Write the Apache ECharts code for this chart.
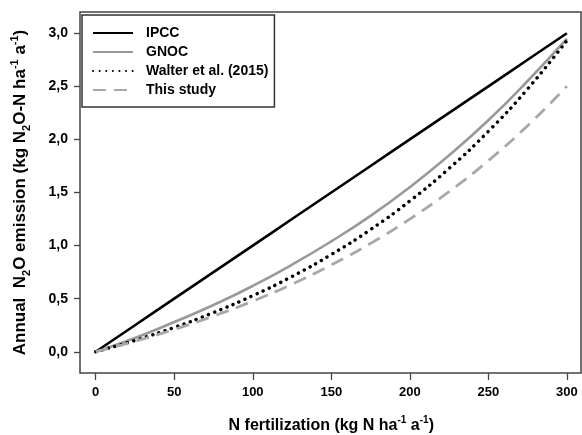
<!DOCTYPE html>
<html><head><meta charset="utf-8">
<script src="https://cdn.jsdelivr.net/npm/echarts@6/dist/echarts.min.js"></script>
<style>html,body{margin:0;padding:0;background:#fff}#c{width:582px;height:435px}</style>
</head><body><div id="c"></div>
<script>
const nFert = [0,25,50,75,100,125,150,175,200,225,250,275,300];
const ipcc = [0,0.25,0.5,0.75,1.0,1.25,1.5,1.75,2.0,2.25,2.5,2.75,3.0];
const gnoc = [0,0.13,0.28,0.44,0.62,0.82,1.04,1.28,1.55,1.85,2.18,2.55,2.95];
const walter = [0,0.107,0.229,0.369,0.528,0.709,0.916,1.151,1.42,1.727,2.076,2.475,2.93];
const thisStudy = [0,0.099,0.21,0.336,0.477,0.637,0.818,1.021,1.25,1.509,1.80,2.129,2.5];
const xTicks = [0,50,100,150,200,250,300];
const yTicks = [0,0.5,1.0,1.5,2.0,2.5,3.0];
const names = ['IPCC','GNOC','Walter et al. (2015)','This study'];

const W = 582, H = 435;
// frame (box) layout and the value range it spans
const F = {left:80, top:12, right:1, bottom:62};
const xFrame = [-10, 309], yFrame = [-0.2, 3.2];
const xData = [xTicks[0], xTicks[xTicks.length-1]], yData = [yTicks[0], yTicks[yTicks.length-1]];
const fw = W - F.left - F.right, fh = H - F.top - F.bottom;
const inL = (xData[0]-xFrame[0])/(xFrame[1]-xFrame[0])*fw;
const inR = (xFrame[1]-xData[1])/(xFrame[1]-xFrame[0])*fw;
const inT = (yFrame[1]-yData[1])/(yFrame[1]-yFrame[0])*fh;
const inB = (yData[0]-yFrame[0])/(yFrame[1]-yFrame[0])*fh;

const pairs = arr => nFert.map((n,i)=>[n,arr[i]]);
const FONT = '"Liberation Sans", Arial, sans-serif';
const mkRich = (fs, ss) => ({
  n:{fontSize:fs,fontWeight:'bold',fontFamily:FONT,color:'#000',lineHeight:fs+6},
  sup:{fontSize:ss,fontWeight:'bold',fontFamily:FONT,color:'#000',lineHeight:8,verticalAlign:'top'},
  sub:{fontSize:ss,fontWeight:'bold',fontFamily:FONT,color:'#000',lineHeight:8,verticalAlign:'bottom'}
});
const chart = echarts.init(document.getElementById('c'),null,{renderer:'canvas'});
const mk = (name,data,color,type,width,cap) => ({
  name, type:'line', xAxisIndex:1, yAxisIndex:1, data:pairs(data), showSymbol:false, symbol:'none',
  smooth:true, clip:false,
  lineStyle:{color, width, type, cap:cap||'butt'}, itemStyle:{color}
});
chart.setOption({
  animation:false,
  grid:[
    {left:F.left,top:F.top,right:F.right,bottom:F.bottom,containLabel:false,outerBoundsMode:'none',
      show:true,borderColor:'#444',borderWidth:1.5,backgroundColor:'transparent'},
    {left:F.left+inL,top:F.top+inT,right:F.right+inR,bottom:F.bottom+inB,containLabel:false,outerBoundsMode:'none'}
  ],
  xAxis:[
    {gridIndex:0,type:'value',min:xFrame[0],max:xFrame[1],show:false},
    {gridIndex:1,type:'value',min:xData[0],max:xData[1],interval:50,offset:inB,z:10,
      axisLine:{show:false,onZero:false},splitLine:{show:false},
      axisTick:{show:true,length:7,lineStyle:{color:'#444',width:1.3}},
      axisLabel:{margin:13,fontSize:13,fontWeight:'bold',fontFamily:FONT,color:'#000'},
      name:'{n|N fertilization (kg N ha}{sup|-1}{n| a}{sup|-1}{n|)}',
      nameLocation:'middle',nameGap:42,nameTextStyle:{rich:mkRich(16,10)}
    }
  ],
  yAxis:[
    {gridIndex:0,type:'value',min:yFrame[0],max:yFrame[1],show:false},
    {gridIndex:1,type:'value',min:yData[0],max:yData[1],interval:0.5,offset:inL,z:10,
      axisLine:{show:false,onZero:false},splitLine:{show:false},
      axisTick:{show:true,length:6,lineStyle:{color:'#444',width:1.3}},
      axisLabel:{margin:12,fontSize:14,fontWeight:'bold',fontFamily:FONT,color:'#000',
        formatter:v=>v.toFixed(1).replace('.',',')},
      name:'{n|Annual  N}{sub|2}{n|O emission (kg N}{sub|2}{n|O-N ha}{sup|-1}{n| a}{sup|-1}{n|)}',
      nameLocation:'middle',nameGap:48,nameTextStyle:{rich:mkRich(17,11)}
    }
  ],
  legend:{show:true,orient:'vertical',left:82,top:15,
    data:names,
    itemWidth:40,itemHeight:14,itemGap:5,
    padding:[11,6,10,10],
    itemStyle:{opacity:0},
    borderColor:'#333',borderWidth:1.5,backgroundColor:'#fff',
    textStyle:{fontSize:14,fontWeight:'bold',fontFamily:FONT,color:'#000',padding:[0,0,0,8]}
  },
  series:[
    mk(names[0],ipcc,'#000','solid',2.6),
    mk(names[1],gnoc,'#999','solid',2.6),
    mk(names[2],walter,'#000',[0.1,6.5],3.4,'round'),
    mk(names[3],thisStudy,'#a8a8a8',[13,8],2.8)
  ]
});
</script></body></html>
